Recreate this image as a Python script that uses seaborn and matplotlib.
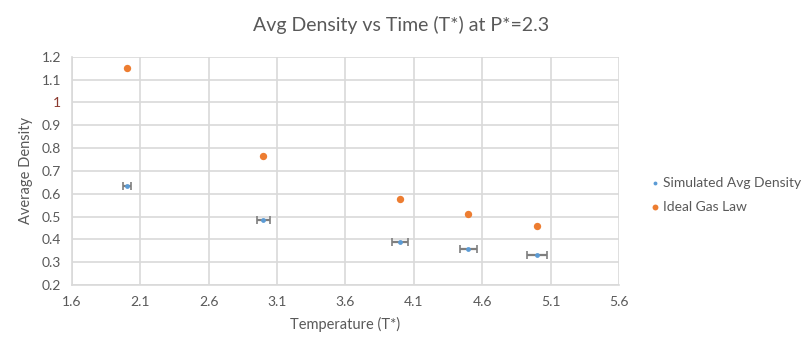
import numpy as np
import matplotlib.pyplot as plt
import seaborn as sns

# ── data ─────────────────────────────────────────────────────────────────────
temps = [2.0, 3.0, 4.0, 4.5, 5.0]
sim_density = [0.633, 0.485, 0.390, 0.357, 0.330]
sim_xerr = [0.03, 0.048, 0.06, 0.065, 0.075]
ideal_density = [1.15, 0.767, 0.575, 0.511, 0.46]
x_ticks = [1.6, 2.1, 2.6, 3.1, 3.6, 4.1, 4.6, 5.1, 5.6]
y_ticks = [0.2, 0.3, 0.4, 0.5, 0.6, 0.7, 0.8, 0.9, 1.0, 1.1, 1.2]

sns.set_style("white")
plt.rcParams["font.family"] = ["Lato", "DejaVu Sans"]
txt = "#595959"
grid = "#d9d9d9"

fig = plt.figure(figsize=(8.03, 3.51), dpi=100)
ax = fig.add_axes([0.0897, 0.188, 0.681, 0.650])

ax.errorbar(temps, sim_density, xerr=sim_xerr, fmt="none", ecolor="#7f7f7f",
            elinewidth=1.6, capsize=3, capthick=1.2, zorder=2)
sns.scatterplot(x=temps, y=sim_density, ax=ax, color="#5b9bd5", s=12,
                linewidth=0, label="Simulated Avg Density", zorder=3)
sns.scatterplot(x=temps, y=ideal_density, ax=ax, color="#ed7d31", s=28,
                linewidth=0, label="Ideal Gas Law", zorder=3)

ax.set_xlim(1.6, 5.6)
ax.set_ylim(0.2, 1.2)
ax.set_xticks(x_ticks)
ax.set_yticks(y_ticks)
ax.set_xticklabels([f"{t:g}" for t in x_ticks])
ax.set_yticklabels([f"{t:g}" for t in y_ticks])
ax.tick_params(colors=txt, labelsize=10, length=0, pad=8)
for lab in ax.get_yticklabels():
    if lab.get_text() == "1":
        lab.set_color("#8b3a2f")
ax.grid(True, color=grid, linewidth=1.2)
ax.set_axisbelow(True)
for side in ["top", "right"]:
    ax.spines[side].set_visible(False)
for side in ["left", "bottom"]:
    ax.spines[side].set_color(grid)
    ax.spines[side].set_linewidth(1.2)

ax.set_xlabel("Temperature (T*)", color=txt, fontsize=10.5, labelpad=6)
ax.set_ylabel("Average Density", color=txt, fontsize=10.5, labelpad=6)
fig.suptitle("Avg Density vs Time (T*) at P*=2.3", color=txt, fontsize=14,
             x=0.5, y=0.955)

leg = ax.legend(loc="center left", bbox_to_anchor=(1.03, 0.395), frameon=False,
                fontsize=10, handletextpad=0.1, labelspacing=0.9,
                markerscale=0.8, handlelength=1)
for t in leg.get_texts():
    t.set_color(txt)

plt.savefig("out.png", dpi=100)
plt.close()
